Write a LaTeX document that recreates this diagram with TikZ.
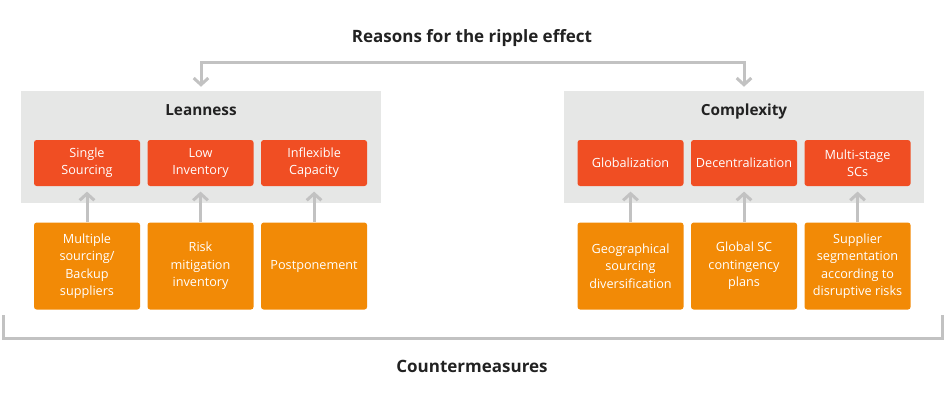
\documentclass[tikz,border=0pt]{standalone}
\usepackage{fontspec}
\setmainfont{Open Sans}
\usepackage{xcolor}
\usetikzlibrary{positioning,arrows.meta}

\definecolor{panelgray}{HTML}{E6E7E6}
\definecolor{causered}{HTML}{F04E23}
\definecolor{measureorange}{HTML}{F28A06}
\definecolor{linegray}{HTML}{C2C2C2}
\definecolor{titleblack}{HTML}{222222}

\begin{document}
\begin{tikzpicture}[x=0.75pt, y=-0.75pt, node distance=5.25pt,
      every node/.style={align=center, inner sep=0pt},
      panel/.style={fill=panelgray, minimum width=270pt, minimum height=84pt},
      heading/.style={anchor=base, font=\bfseries\fontsize{11.5}{14}\selectfont, text=titleblack},
      bigheading/.style={heading, font=\bfseries\fontsize{12.75}{15}\selectfont},
      cause/.style={fill=causered, rounded corners=2pt, minimum width=79.5pt, minimum height=34.5pt,
        text=white, font=\fontsize{9.5}{13}\selectfont},
      measure/.style={fill=measureorange, rounded corners=2pt, minimum width=79.5pt, minimum height=65.25pt,
        text=white, font=\fontsize{9.5}{13}\selectfont},
      conn/.style={draw=linegray, line width=2.25pt},
      arr/.style={conn, -{Straight Barb[length=5pt, width=11pt]}}]
    \useasboundingbox (0,0) rectangle (945,401);

    % titles
    \node[bigheading] (reasons) at (472,42) {Reasons for the ripple effect};
    \node[bigheading] (counter) at (472,372) {Countermeasures};

    % the two panels
    \node[panel] (lean) at (201,147) {};
    \node[panel] (cplx) at (744,147) {};
    \node[heading] at (201,115) {Leanness};
    \node[heading] at (744,115) {Complexity};

    % causes
    \node[cause] (single) at (87,163) {Single\\Sourcing};
    \node[cause, right=of single] (lowinv) {Low\\Inventory};
    \node[cause, right=of lowinv] (inflex) {Inflexible\\Capacity};
    \node[cause] (global) at (630.5,163) {Globalization};
    \node[cause, right=of global] (decentr) {Decentralization};
    \node[cause, right=of decentr] (multi) {Multi-stage\\SCs};

    % countermeasures
    \node[measure, below=27pt of single] (backup) {Multiple\\sourcing/\\Backup\\suppliers};
    \node[measure, below=27pt of lowinv] (riskinv) {Risk\\mitigation\\inventory};
    \node[measure, below=27pt of inflex] (postpone) {Postponement};
    \node[measure, below=27pt of global] (geo) {Geographical\\sourcing\\diversification};
    \node[measure, below=27pt of decentr] (plans) {Global SC\\contingency\\plans};
    \node[measure, below=27pt of multi] (segment) {Supplier\\segmentation\\according to\\disruptive risks};

    % top connector
    \coordinate (topmid) at (472,62);
    \draw[arr, shorten >=3pt] (topmid) -| (lean.north);
    \draw[arr, shorten >=3pt] (topmid) -| (cplx.north);

    % arrows up
    \draw[arr, shorten >=4pt] (backup) -- (single);
    \draw[arr, shorten >=4pt] (riskinv) -- (lowinv);
    \draw[arr, shorten >=4pt] (postpone) -- (inflex);
    \draw[arr, shorten >=4pt] (geo) -- (global);
    \draw[arr, shorten >=4pt] (plans) -- (decentr);
    \draw[arr, shorten >=4pt] (segment) -- (multi);

    % bottom bracket
    \coordinate (brl) at (3,315);
    \coordinate (brr) at (942,315);
    \draw[conn] (brl) -- ++(0,23) -| (brr);
  \end{tikzpicture}
\end{document}
